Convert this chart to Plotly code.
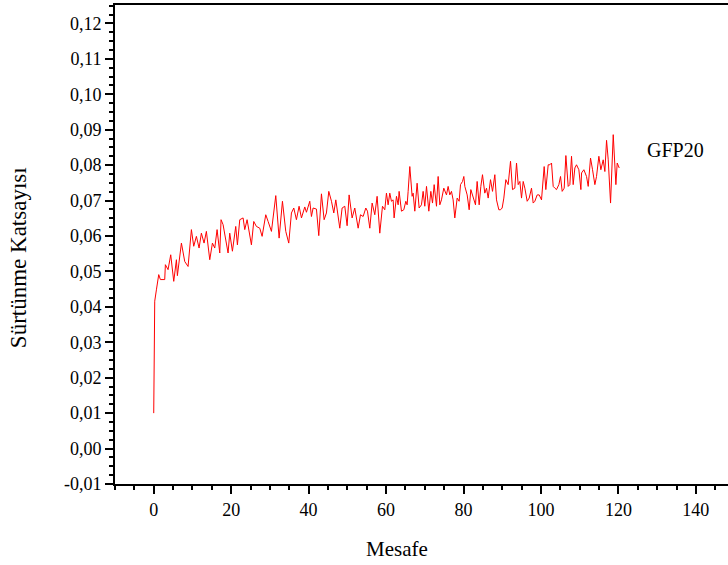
import plotly.graph_objects as go

mesafe = [0.00, 0.26, 0.69, 1.29, 1.72, 2.84, 3.01, 3.70, 4.39, 5.17, 5.86, 6.11, 7.15, 8.01, 8.87,
          9.73, 10.33, 11.02, 11.71, 12.31, 13.00, 13.60, 14.47, 15.16, 15.76, 16.36, 17.05, 17.39,
          17.91, 18.60, 19.20, 19.63, 20.32, 21.18, 21.61, 22.22, 23.08, 23.51, 24.11, 25.23, 25.83,
          26.52, 27.38, 27.99, 28.93, 29.54, 30.40, 31.52, 32.38, 33.24, 34.10, 34.87, 35.56, 36.17,
          36.85, 37.54, 38.15, 39.01, 39.44, 40.30, 40.73, 41.16, 42.02, 42.62, 43.31, 44.00, 44.60,
          45.21, 45.90, 46.50, 47.02, 48.05, 48.65, 49.34, 49.94, 50.46, 51.23, 51.92, 52.79, 53.39,
          54.08, 54.77, 55.20, 55.80, 56.40, 57.09, 57.69, 58.38,
          59.07, 59.67, 60.10, 60.53, 60.96, 61.39, 61.82, 62.08, 62.69, 63.12, 63.37, 63.98, 64.58,
          65.10, 65.44, 65.70, 66.13, 66.73, 66.99, 67.42, 68.02, 68.54, 69.14, 69.57, 70.00, 70.44,
          71.04, 71.56, 71.99, 72.42, 73.02, 73.45, 73.88, 74.31, 74.91, 75.60, 76.03, 76.46, 76.89,
          77.32, 77.75, 78.36, 78.87, 79.22, 79.74, 80.08, 80.34, 80.94, 81.46, 81.89, 82.49, 83.09,
          83.52, 84.04, 84.47, 84.90, 85.50, 85.94, 86.37, 86.97, 87.49, 88.09, 88.52, 89.12, 89.55,
          89.98, 90.41, 90.93, 91.53, 92.14, 92.65, 93.25, 93.69, 94.12, 94.55, 94.98, 95.41, 95.84,
          96.44, 96.96, 97.56, 97.99, 98.42, 99.02, 99.54, 100.14, 100.83, 101.26, 101.87, 102.30,
          102.73, 103.16, 103.59, 104.02, 104.62, 105.05, 105.48, 106.00, 106.43, 107.03, 107.46,
          107.89, 108.32, 108.75, 109.18, 109.79, 110.31, 110.48, 111.08, 111.77, 112.20, 112.80,
          113.32, 113.92, 114.35, 114.95, 115.47, 116.07, 116.50, 116.94, 117.37, 117.97, 118.66,
          119.35, 119.69, 120.21]

surtunme = [0.0100, 0.0416, 0.0448, 0.0491, 0.0477, 0.0477, 0.0519, 0.0505, 0.0547, 0.0472, 0.0533,
            0.0488, 0.0580, 0.0528, 0.0514, 0.0618, 0.0571, 0.0599, 0.0566, 0.0608, 0.0580, 0.0613,
            0.0533, 0.0580, 0.0566, 0.0618, 0.0552, 0.0646, 0.0632, 0.0594, 0.0552, 0.0608, 0.0557,
            0.0627, 0.0575, 0.0646, 0.0651, 0.0618, 0.0646, 0.0575, 0.0641, 0.0627, 0.0622, 0.0599,
            0.0660, 0.0641, 0.0613, 0.0714, 0.0594, 0.0698, 0.0613, 0.0580, 0.0665, 0.0679, 0.0646,
            0.0684, 0.0651, 0.0682, 0.0667, 0.0698, 0.0655, 0.0679, 0.0676, 0.0601, 0.0719, 0.0646,
            0.0665, 0.0726, 0.0698, 0.0665, 0.0702, 0.0622, 0.0679, 0.0684, 0.0629, 0.0716, 0.0651,
            0.0679, 0.0622, 0.0660, 0.0655, 0.0679, 0.0670, 0.0622, 0.0693, 0.0660, 0.0712, 0.0608,
            0.0684, 0.0674, 0.0721, 0.0688, 0.0721, 0.0698, 0.0702, 0.0651, 0.0712, 0.0688, 0.0726,
            0.0670, 0.0674, 0.0698, 0.0688, 0.0726, 0.0796, 0.0712, 0.0721, 0.0670, 0.0749, 0.0679,
            0.0688, 0.0726, 0.0684, 0.0740, 0.0670, 0.0726, 0.0693, 0.0745, 0.0684, 0.0768, 0.0688,
            0.0702, 0.0735, 0.0716, 0.0740, 0.0716, 0.0726, 0.0702, 0.0651, 0.0707, 0.0698, 0.0745,
            0.0754, 0.0768, 0.0740, 0.0716, 0.0674, 0.0731, 0.0712, 0.0688, 0.0754, 0.0688, 0.0740,
            0.0773, 0.0721, 0.0735, 0.0707, 0.0759, 0.0726, 0.0773, 0.0702, 0.0674, 0.0674, 0.0679,
            0.0707, 0.0759, 0.0745, 0.0811, 0.0731, 0.0735, 0.0806, 0.0745, 0.0754, 0.0707, 0.0754,
            0.0735, 0.0698, 0.0707, 0.0735, 0.0693, 0.0698, 0.0716, 0.0716, 0.0702, 0.0796, 0.0731,
            0.0801, 0.0801, 0.0806, 0.0740, 0.0735, 0.0731, 0.0745, 0.0768, 0.0726, 0.0735, 0.0827,
            0.0740, 0.0745, 0.0825, 0.0745, 0.0792, 0.0801, 0.0787, 0.0731, 0.0778, 0.0787, 0.0768,
            0.0740, 0.0820, 0.0787, 0.0745, 0.0768, 0.0825, 0.0787, 0.0815, 0.0782, 0.0870, 0.0815,
            0.0693, 0.0886, 0.0745, 0.0806, 0.0792]

series_name = "GFP20"
x_title = "Mesafe"
y_title = "Sürtünme Katsayısı"
x_ticks = [0, 20, 40, 60, 80, 100, 120, 140]
x_ticklabels = ["0", "20", "40", "60", "80", "100", "120", "140"]
y_ticks = [-0.01, 0.00, 0.01, 0.02, 0.03, 0.04, 0.05, 0.06, 0.07, 0.08, 0.09, 0.10, 0.11, 0.12]
y_ticklabels = ["-0,01", "0,00", "0,01", "0,02", "0,03", "0,04", "0,05", "0,06", "0,07",
                "0,08", "0,09", "0,10", "0,11", "0,12"]

FONT = "Liberation Serif, Times New Roman, serif"

fig = go.Figure()
fig.add_trace(go.Scatter(x=mesafe, y=surtunme, mode="lines", name=series_name,
                         line=dict(color="#ff0000", width=1), showlegend=False))

fig.add_annotation(x=134.8, y=0.0844, text=series_name, showarrow=False,
                   font=dict(family=FONT, size=20, color="black"), xref="x", yref="y")

# axis titles placed as annotations (the original page crops the right part of the frame)
fig.add_annotation(x=0.46, y=-0.1357, xref="paper", yref="paper", text=x_title,
                   showarrow=False, xanchor="center", yanchor="middle",
                   font=dict(family=FONT, size=21, color="black"))
fig.add_annotation(x=-0.158, y=0.4718, xref="paper", yref="paper", text=y_title,
                   showarrow=False, xanchor="center", yanchor="middle", textangle=-90,
                   font=dict(family=FONT, size=23, color="black"))

fig.update_layout(
    width=728, height=565,
    margin=dict(l=115, r=0, t=5, b=81),
    paper_bgcolor="white", plot_bgcolor="white",
    separators=", ",
    font=dict(family=FONT, color="black"),
    xaxis=dict(
        range=[-10, 148.3], tickvals=x_ticks, ticktext=x_ticklabels, ticks="outside", ticklen=8,
        tickwidth=2, tickcolor="black", showline=True, linecolor="black", linewidth=2, mirror=True,
        showgrid=False, zeroline=False, tickfont=dict(size=18, family=FONT),
        minor=dict(ticks="outside", ticklen=4, tickwidth=2, tickcolor="black", dtick=5, tick0=0),
    ),
    yaxis=dict(
        range=[-0.01, 0.1252], tickvals=y_ticks, ticktext=y_ticklabels, ticks="outside", ticklen=8,
        tickwidth=2, tickcolor="black", showline=True, linecolor="black", linewidth=2,
        showgrid=False, zeroline=False, tickfont=dict(size=18, family=FONT),
        minor=dict(ticks="outside", ticklen=4, tickwidth=2, tickcolor="black", dtick=0.0025, tick0=0),
    ),
)

fig.write_html("out.html")
